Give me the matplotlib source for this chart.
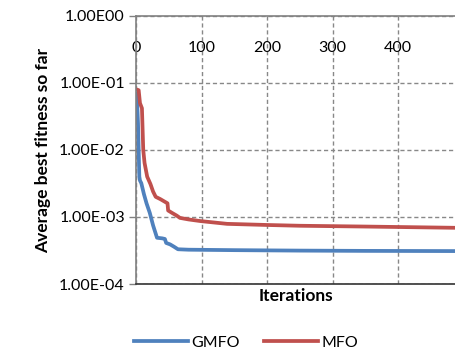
import matplotlib
matplotlib.use("Agg")
from matplotlib import pyplot as plt
from matplotlib.ticker import FixedLocator, FuncFormatter

# values
gmfo_iter = [1, 3, 5, 6, 8, 12, 16, 21, 26, 32, 40, 44, 46, 52, 58, 64, 80, 150, 250, 350, 487]
gmfo_fit = [7e-2, 2.5e-2, 4e-3, 3.5e-3, 3.2e-3, 2.2e-3, 1.6e-3, 1.15e-3, 7.5e-4, 4.9e-4,
            4.8e-4, 4.7e-4, 4.1e-4, 3.9e-4, 3.6e-4, 3.3e-4, 3.25e-4, 3.2e-4, 3.15e-4, 3.12e-4, 3.1e-4]

mfo_iter = [1, 4, 6, 9, 11, 13, 17, 22, 26, 30, 37, 48, 49, 55, 62, 67, 80, 98, 139, 200, 250, 350, 487]
mfo_fit = [8e-2, 7.8e-2, 5e-2, 4.2e-2, 1e-2, 6.4e-3, 4e-3, 3.1e-3, 2.4e-3, 2.0e-3, 1.85e-3,
           1.6e-3, 1.25e-3, 1.15e-3, 1.05e-3, 9.7e-4, 9.2e-4, 8.7e-4, 7.9e-4, 7.6e-4, 7.4e-4, 7.2e-4, 6.9e-4]

x_ticks = [0, 100, 200, 300, 400]
y_ticks = [1e-4, 1e-3, 1e-2, 1e-1, 1e0]
y_labels = ["1.00E-04", "1.00E-03", "1.00E-02", "1.00E-01", "1.00E00"]

plt.rcParams['font.family'] = ['Lato', 'DejaVu Sans']

fig = plt.figure(figsize=(4.55, 3.55), dpi=100)
ax = fig.add_axes([0.299, 0.2, 0.701, 0.755])

ax.plot(gmfo_iter, gmfo_fit, color="#4F81BD", lw=2.7, label="GMFO", solid_joinstyle="round")
ax.plot(mfo_iter, mfo_fit, color="#C0504D", lw=2.7, label="MFO", solid_joinstyle="round")

ax.set_yscale("log")
ax.set_ylim(1e-4, 1e0)
ax.set_xlim(0, 487)
ax.yaxis.set_major_locator(FixedLocator(y_ticks))
ax.yaxis.set_minor_locator(FixedLocator([]))
ax.set_yticklabels(y_labels, fontsize=11.5)
ax.xaxis.set_major_locator(FixedLocator(x_ticks))
ax.xaxis.set_major_formatter(FuncFormatter(lambda v, p: "%d" % v))

ax.tick_params(axis='x', top=True, labeltop=True, bottom=False, labelbottom=False,
               length=0, pad=-28, labelsize=11.5)
ax.tick_params(axis='y', direction='out', length=5, color="#808080", width=1, pad=3)

ax.grid(True, which='major', color="#888888", linestyle=(0, (3, 2)), lw=1)

for s in ['left', 'top']:
    ax.spines[s].set_color("#808080")
    ax.spines[s].set_linewidth(1.2)
ax.spines['right'].set_visible(False)
ax.spines['bottom'].set_color("#333333")
ax.spines['bottom'].set_linewidth(1.2)

ax.set_xlabel("Iterations", fontsize=12.5, fontweight="bold", labelpad=3)
ax.set_ylabel("Average best fitness so far", fontsize=12.5, fontweight="bold", labelpad=6)

fig.legend(loc="center", bbox_to_anchor=(0.54, 0.035), ncol=2, frameon=False,
           fontsize=11.5, handlelength=3.4, handletextpad=0.2, columnspacing=1.5)

fig.savefig("out.png", dpi=100)
